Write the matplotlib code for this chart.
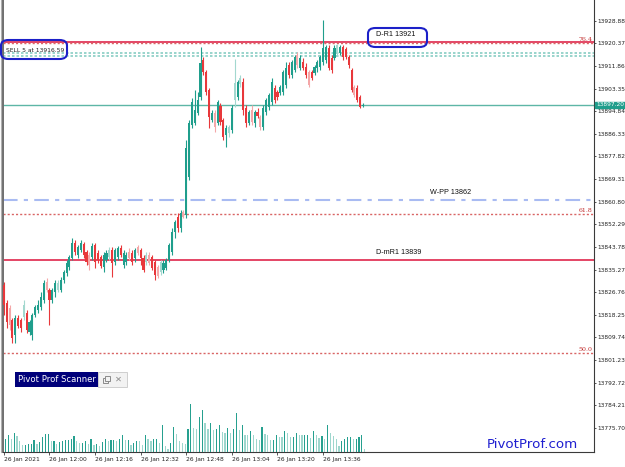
import matplotlib
matplotlib.use("Agg")
import matplotlib.pyplot as plt
from matplotlib.patches import Rectangle, FancyBboxPatch
import matplotlib.transforms as mtransforms

# ---------------- data ----------------
opens = [13829.5, 13822.7, 13820.8, 13816.3, 13810.7, 13817.1, 13816.3, 13817.4, 13818.9, 13811.8,
         13810.7, 13818.2, 13820.1, 13821.2, 13823.8, 13830.6, 13827.6, 13823.8, 13826.8, 13827.6,
         13827.6, 13831.4, 13834.0, 13836.2, 13839.6, 13845.3, 13840.8, 13842.6, 13844.9, 13841.9,
         13840.8, 13840.0, 13844.5, 13841.5, 13840.0, 13836.2, 13838.9, 13840.0, 13842.6, 13838.1,
         13840.0, 13843.4, 13837.0, 13838.1, 13841.9, 13841.5, 13839.6, 13843.8, 13842.6, 13839.6,
         13838.1, 13840.8, 13840.0, 13838.1, 13836.2, 13834.4, 13835.1, 13835.9, 13838.9, 13841.9,
         13849.4, 13855.1, 13850.9, 13857.0, 13855.8, 13870.1, 13889.7, 13890.4, 13894.2, 13900.2,
         13914.1, 13909.6, 13902.8, 13891.5, 13894.2, 13890.4, 13896.8, 13891.5, 13885.9, 13886.6,
         13887.8, 13899.0, 13900.2, 13905.0, 13905.8, 13896.0, 13890.4, 13895.3, 13890.4, 13894.5,
         13892.7, 13888.9, 13894.5, 13896.4, 13898.3, 13903.6, 13902.0, 13901.7, 13902.0, 13904.7,
         13912.2, 13908.5, 13910.3, 13916.0, 13911.1, 13913.3, 13911.5, 13909.6, 13909.6, 13909.2,
         13911.1, 13911.5, 13913.3, 13914.1, 13918.6, 13914.8, 13914.8, 13917.1, 13916.7, 13919.0,
         13918.2, 13915.2, 13910.3, 13903.9, 13903.6, 13900.2, 13896.8]
closes = [13821.9, 13815.6, 13814.4, 13809.5, 13817.1, 13814.1, 13813.3, 13821.9, 13812.6, 13815.6,
          13818.2, 13821.2, 13821.9, 13825.0, 13830.2, 13827.6, 13823.8, 13827.6, 13830.2, 13830.2,
          13831.4, 13834.4, 13837.7, 13840.0, 13845.3, 13841.9, 13843.8, 13845.3, 13840.8, 13838.1,
          13837.0, 13844.1, 13838.1, 13838.9, 13836.6, 13840.8, 13841.5, 13842.6, 13837.7, 13842.6,
          13843.4, 13840.8, 13841.5, 13840.8, 13839.6, 13838.1, 13842.6, 13841.5, 13839.6, 13835.1,
          13840.8, 13837.7, 13835.9, 13833.2, 13832.9, 13838.1, 13837.7, 13838.9, 13844.5, 13849.4,
          13853.2, 13850.9, 13856.6, 13855.1, 13881.0, 13890.4, 13898.3, 13895.3, 13899.0, 13913.0,
          13909.6, 13902.0, 13892.7, 13894.2, 13888.9, 13898.3, 13890.8, 13885.1, 13888.5, 13888.9,
          13896.0, 13905.4, 13905.8, 13907.3, 13895.3, 13890.4, 13894.5, 13890.8, 13894.5, 13893.0,
          13888.9, 13896.0, 13899.0, 13900.9, 13905.8, 13899.0, 13900.2, 13903.9, 13909.6, 13911.1,
          13908.5, 13913.3, 13915.2, 13912.2, 13914.8, 13911.1, 13908.5, 13904.7, 13907.3, 13911.5,
          13913.3, 13915.2, 13918.6, 13919.0, 13911.1, 13910.3, 13918.6, 13919.7, 13919.0, 13915.2,
          13915.2, 13912.2, 13902.8, 13900.9, 13899.0, 13896.4, 13897.2]
highs = [13830.6, 13823.8, 13821.9, 13817.1, 13818.2, 13818.2, 13817.1, 13823.8, 13820.1, 13816.3,
         13818.9, 13821.9, 13823.8, 13826.8, 13831.4, 13832.1, 13828.3, 13828.3, 13831.4, 13831.4,
         13832.5, 13835.1, 13838.9, 13840.8, 13847.2, 13846.4, 13844.5, 13846.4, 13845.6, 13842.6,
         13841.9, 13845.3, 13845.3, 13842.6, 13840.8, 13841.9, 13842.6, 13843.8, 13843.8, 13843.4,
         13844.1, 13844.5, 13842.6, 13841.9, 13843.4, 13842.6, 13843.4, 13844.5, 13843.4, 13840.8,
         13841.9, 13841.9, 13840.8, 13838.9, 13837.0, 13838.9, 13838.9, 13839.6, 13845.3, 13850.9,
         13853.9, 13856.6, 13857.7, 13857.7, 13884.0, 13891.5, 13899.8, 13902.8, 13902.0, 13919.0,
         13915.2, 13910.3, 13903.6, 13895.3, 13895.3, 13899.0, 13897.9, 13892.3, 13889.7, 13889.7,
         13897.2, 13914.5, 13906.6, 13908.5, 13907.3, 13897.2, 13895.3, 13897.2, 13895.3, 13896.0,
         13893.4, 13897.2, 13899.8, 13901.7, 13907.3, 13904.7, 13902.8, 13904.7, 13910.3, 13913.3,
         13913.3, 13914.1, 13916.0, 13917.1, 13916.0, 13914.8, 13913.0, 13910.3, 13910.3, 13912.2,
         13914.1, 13916.0, 13929.1, 13919.7, 13919.7, 13916.0, 13919.7, 13920.1, 13919.7, 13919.7,
         13919.0, 13916.0, 13911.1, 13904.7, 13904.7, 13900.9, 13897.9]
lows = [13818.2, 13813.3, 13812.6, 13807.6, 13807.6, 13813.3, 13811.8, 13816.3, 13811.4, 13810.7,
        13808.8, 13817.4, 13818.9, 13820.1, 13822.7, 13826.8, 13814.4, 13822.7, 13825.0, 13826.8,
        13826.8, 13830.2, 13832.9, 13835.1, 13838.9, 13840.8, 13839.6, 13841.9, 13839.6, 13837.0,
        13835.1, 13838.9, 13835.9, 13837.7, 13835.9, 13834.4, 13838.1, 13838.9, 13832.5, 13837.0,
        13838.9, 13840.0, 13835.9, 13837.0, 13838.9, 13837.0, 13838.1, 13840.8, 13837.0, 13834.4,
        13837.0, 13837.0, 13835.1, 13831.4, 13832.1, 13833.2, 13834.0, 13835.1, 13838.1, 13840.8,
        13847.2, 13849.4, 13849.4, 13854.7, 13854.7, 13869.0, 13888.5, 13889.7, 13893.4, 13899.0,
        13908.5, 13900.9, 13888.5, 13890.8, 13887.0, 13889.7, 13889.7, 13884.0, 13881.4, 13885.1,
        13886.6, 13896.4, 13899.0, 13903.9, 13893.4, 13888.9, 13889.7, 13889.7, 13888.9, 13892.3,
        13887.8, 13887.8, 13893.4, 13895.3, 13897.2, 13897.9, 13899.0, 13900.9, 13900.9, 13903.6,
        13907.3, 13907.3, 13909.6, 13911.1, 13910.3, 13910.3, 13907.3, 13903.9, 13906.6, 13908.5,
        13909.6, 13910.3, 13912.2, 13913.0, 13910.3, 13909.2, 13914.1, 13916.0, 13916.0, 13914.1,
        13914.5, 13911.1, 13902.0, 13900.2, 13898.3, 13896.0, 13896.4]
faded_bars = [2, 7, 15, 19, 30, 37, 44, 47, 50, 51, 54, 55, 63, 74, 79, 81, 83, 87, 90,
              103, 107, 117, 123]
volumes = [40, 52, 38, 58, 48, 34, 22, 22, 24, 24,
           37, 24, 30, 44, 55, 55, 34, 34, 25, 30,
           32, 35, 35, 38, 49, 34, 27, 28, 34, 24,
           38, 22, 24, 18, 29, 40, 32, 35, 35, 32,
           40, 52, 37, 37, 22, 28, 33, 32, 22, 52,
           38, 32, 38, 38, 28, 82, 18, 8, 28, 75,
           55, 34, 28, 25, 70, 145, 72, 70, 105, 125,
           88, 70, 88, 65, 68, 80, 60, 58, 73, 57,
           68, 118, 65, 80, 52, 50, 64, 52, 40, 36,
           75, 55, 52, 35, 36, 52, 45, 44, 64, 58,
           46, 46, 58, 52, 50, 52, 52, 43, 64, 50,
           42, 49, 40, 82, 58, 48, 38, 18, 32, 38,
           44, 46, 40, 40, 46, 52, 10]

time_tick_bars = [0, 16, 32, 48, 64, 80, 96, 112]
time_tick_labels = ["26 Jan 2021", "26 Jan 12:00", "26 Jan 12:16", "26 Jan 12:32",
                    "26 Jan 12:48", "26 Jan 13:04", "26 Jan 13:20", "26 Jan 13:36"]
price_ticks = [13775.70, 13784.21, 13792.72, 13801.23, 13809.74, 13818.25, 13826.76,
               13835.27, 13843.78, 13852.29, 13860.80, 13869.31, 13877.82, 13886.33,
               13894.84, 13903.35, 13911.86, 13920.37, 13928.88]

pivot_levels = [13921.0, 13861.5, 13838.9]          # D-R1, W-PP, D-mR1
pivot_labels = ["D-R1 13921", "W-PP 13862", "D-mR1 13839"]
fib_levels = [13920.4, 13856.1, 13803.8]
fib_labels = ["76.4", "61.8", "50.0"]
sell_levels = [13916.9, 13915.7]
sell_label = "SELL 5 at 13916.59"
current_price = 13897.20

# ---------------- style ----------------
W, H = 625, 467
BULL, BEAR = "#1f9e8c", "#e8383b"
BULL_F, BEAR_F = "#a3d8cf", "#f4a7a8"
TICKFONT = ["DejaVu Sans"]
AXC = "#3a3a3a"

fig = plt.figure(figsize=(W / 100, H / 100), dpi=100, facecolor="white")

def fx(x):
    return x / W

def fy(y):
    return 1 - y / H

ax_l, ax_r, ax_t, ax_b = 3, 594, 0, 452
ax = fig.add_axes([fx(ax_l), fy(ax_b), fx(ax_r - ax_l), (ax_b - ax_t) / H])
ax.set_facecolor("white")

x0 = -0.3
units = (ax_r - ax_l) / 2.85
ax.set_xlim(x0, x0 + units)
ax.set_ylim(13766.68, 13936.66)

# candles
for i in range(len(opens)):
    o, c, h, l = opens[i], closes[i], highs[i], lows[i]
    up = c >= o
    if i in faded_bars:
        col = BULL_F if up else BEAR_F
    else:
        col = BULL if up else BEAR
    ax.vlines(i, l, h, color=col, lw=0.8, zorder=3)
    body = max(abs(c - o), 0.35)
    ax.bar(i, body, bottom=min(o, c), width=0.74, color=col, lw=0, zorder=4)

# volumes
ax2 = ax.twinx()
ax2.set_ylim(0, 145 * ax_b / 48.3)
for i, v in enumerate(volumes):
    col = "#26a08f" if (i == 0 or v >= volumes[i - 1]) else "#9ed6cd"
    ax2.bar(i + 0.6, v, width=0.42, color=col, lw=0)
ax2.set_yticks([])
for s in ax2.spines.values():
    s.set_visible(False)

# levels
blend = mtransforms.blended_transform_factory(ax.transAxes, ax.transData)
ax.axhline(pivot_levels[0], color="#dc143c", lw=1.1, zorder=2)
ax.axhline(pivot_levels[2], color="#dc143c", lw=1.1, zorder=2)
ax.axhline(pivot_levels[1], color="#a9bbf2", lw=1.5, ls=(0, (7, 3, 2, 3)), zorder=2)
for lv in fib_levels:
    ax.axhline(lv, color="#d96565", lw=1.0, ls=(0, (1.5, 1.5)), zorder=2)
for lv in sell_levels:
    ax.axhline(lv, color="#88cdc3", lw=1.2, ls=(0, (1.5, 1.2)), zorder=2)
ax.axhline(current_price, color="#5db6a6", lw=1.0, zorder=2)

pl_x = [(376 - ax_l) / (ax_r - ax_l), (430 - ax_l) / (ax_r - ax_l), (376 - ax_l) / (ax_r - ax_l)]
for lv, lab, xx in zip(pivot_levels, pivot_labels, pl_x):
    ax.annotate(lab, xy=(xx, lv), xycoords=blend, xytext=(0, 2.5), textcoords="offset points",
                ha="left", va="bottom", fontsize=5.2, color="#111111",
                family=["Liberation Sans", "DejaVu Sans"])
for lv, lab in zip(fib_levels, fib_labels):
    ax.annotate(lab, xy=(0.997, lv), xycoords=blend, xytext=(0, 1), textcoords="offset points",
                ha="right", va="bottom", fontsize=4.5, color="#c02828",
                family=["DejaVu Serif"])

# axes styling
ax.yaxis.tick_right()
ax.set_yticks(price_ticks)
ax.set_yticklabels([f"{p:.2f}" for p in price_ticks], fontsize=4.2, color="#222222", family=TICKFONT)
ax.tick_params(axis="y", length=1.6, width=0.6, color=AXC, pad=0.5)
ax.set_xticks(time_tick_bars)
ax.set_xticklabels(time_tick_labels, fontsize=4.3, color="#222222", family=TICKFONT, ha="left")
ax.tick_params(axis="x", length=2.2, width=0.6, color=AXC, pad=1.2)
ax.spines["top"].set_visible(False)
ax.spines["right"].set_color(AXC)
ax.spines["right"].set_linewidth(0.8)
ax.spines["bottom"].set_color(AXC)
ax.spines["bottom"].set_linewidth(0.8)
ax.spines["left"].set_color("#6e6e6e")
ax.spines["left"].set_linewidth(1.4)
fig.add_artist(plt.Line2D([fx(0.5), fx(0.5)], [fy(0), fy(ax_b)], color="#b0b0b0", lw=0.8))

# current price tag
ax.annotate(f"{current_price:.2f}", xy=(1.0, current_price), xycoords=blend, xytext=(1.4, 0),
            textcoords="offset points", ha="left", va="center", fontsize=4.2, color="white",
            family=TICKFONT, zorder=10,
            bbox=dict(boxstyle="square,pad=0.15", fc="#1f9e8c", ec="#1f9e8c"))

# rounded blue boxes
def rbox(x1, y1, x2, y2):
    p = FancyBboxPatch((fx(x1), fy(y2)), fx(x2 - x1), (y2 - y1) / H,
                       boxstyle="round,pad=0,rounding_size=0.012", transform=fig.transFigure,
                       fc="none", ec="#1c20c8", lw=1.5, zorder=20)
    fig.add_artist(p)

rbox(368, 28, 427, 47)
rbox(1, 40, 67, 59)
fig.text(fx(6.5), fy(50), sell_label, fontsize=4.3, color="#222222", ha="left", va="center",
         family=["DejaVu Sans"], zorder=21)

# Pivot Prof Scanner widget
fig.add_artist(Rectangle((fx(15), fy(387)), fx(83), 15 / H, transform=fig.transFigure,
                         fc="#00007a", ec="none", zorder=20))
fig.add_artist(Rectangle((fx(98), fy(387)), fx(29), 15 / H, transform=fig.transFigure,
                         fc="#f2f2f2", ec="#c8c8c8", lw=0.6, zorder=20))
fig.text(fx(18), fy(379.5), "Pivot Prof Scanner", fontsize=6.1, color="white", ha="left",
         va="center", zorder=21, family=["DejaVu Sans"])
fig.add_artist(Rectangle((fx(103), fy(382.5)), fx(5), 5 / H, transform=fig.transFigure,
                         fc="none", ec="#8a8a8a", lw=0.7, zorder=21))
fig.add_artist(Rectangle((fx(105), fy(380.5)), fx(5), 5 / H, transform=fig.transFigure,
                         fc="#f2f2f2", ec="#8a8a8a", lw=0.7, zorder=22))
fig.text(fx(118), fy(379.5), "\u2715", fontsize=6, color="#8a8a8a", ha="center", va="center",
         zorder=21, family=["DejaVu Sans"])

# watermark
fig.text(fx(578), fy(445), "PivotProf.com", fontsize=9.6, color="#1f1fd0", ha="right",
         va="center", family=["DejaVu Sans"], zorder=21)

fig.savefig("out.png", dpi=100, facecolor="white")
